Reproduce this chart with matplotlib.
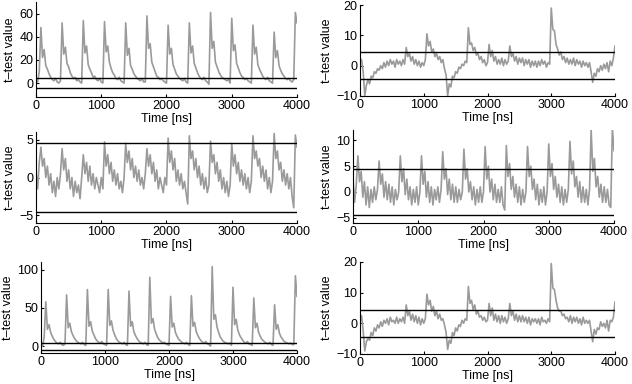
import numpy as np
import matplotlib
matplotlib.use('Agg')
import matplotlib.pyplot as plt

plt.rcParams['font.family'] = ['Liberation Sans', 'DejaVu Sans']
plt.rcParams['font.size'] = 8.5

# time axis: one sample every 25 ns
time_ns = np.arange(0, 4001, 25)
threshold = 4.5

# top left
trace_a = [
    3, 1, 10, 48, 22, 29, 15, 12, 8, 5, 3, 2, 4, 1, 0, 2,
    52, 25, 31, 17, 14, 9, 6, 4, 5, 2, 3, 1, 0,
    54, 26, 32, 16, 12, 9, 5, 6, 3, 2, 4, 1, 0,
    53, 27, 32, 18, 13, 9, 7, 4, 3, 5, 2, 1, 0,
    52, 24, 30, 15, 12, 8, 6, 4, 3, 2, 4, 1, 1,
    58, 30, 34, 18, 14, 10, 6, 5, 3, 4, 2, 1, 0,
    50, 25, 30, 16, 12, 8, 6, 4, 3, 2, 4, 1, 0,
    52, 26, 32, 17, 13, 9, 6, 4, 3, 5, 2, 1, -1,
    61, 30, 36, 18, 14, 10, 7, 5, 4, 3, 2, 3, 0,
    56, 28, 33, 17, 13, 9, 6, 5, 3, 4, 2, 1, 0,
    50, 25, 31, 16, 12, 9, 6, 4, 3, 5, 2, 1, 0,
    44, 22, 28, 15, 11, 8, 6, 4, 3, 4, 2, 1, 3,
    61, 52,
]

# top right
trace_b = [
    1.0, 2.0, -2.0, -10.0, -6.5, -4.5, -6.0, -3.5, -4.0, -2.0, -2.5, -1.0,
    -1.5, 0.0, -1.0, 1.0, -0.5, 1.5, 0.0, 2.0, 0.5, 1.5, -0.5, 2.0,
    0.5, 1.5, 0.0, 2.0, 0.5, 6.0, 3.0, 4.0, 1.5, 3.0, 0.5, 2.0,
    0.0, 1.5, -0.5, 1.0, 0.0, 2.0, 10.5, 6.5, 8.0, 4.5, 5.5, 3.0,
    4.0, 2.0, 3.0, 1.0, 2.0, -1.0, -3.0, -10.0, -6.0, -7.0, -3.5, -4.0,
    -2.0, -2.5, -0.5, -1.0, 0.5, 0.0, 1.5, 1.0, 12.5, 7.0, 7.5, 5.0,
    6.0, 3.5, 4.0, 2.0, 3.0, 1.0, 2.0, 0.0, 1.0, 7.0, 3.0, 5.0,
    1.5, 3.0, 0.5, 2.0, 0.5, 2.5, 0.0, 2.0, 0.5, 1.5, 6.5, 3.0,
    4.0, 1.5, 3.0, 0.5, 2.5, 1.0, 2.5, 0.0, 2.0, 0.5, 2.0, -0.5,
    1.5, 0.0, 1.5, -0.5, 1.5, 0.0, 2.0, 0.5, 1.5, -0.5, 1.0, 0.5,
    19.0, 12.0, 11.5, 7.0, 5.5, 3.5, 4.5, 2.0, 3.0, 1.0, 2.5, 0.5,
    2.0, 0.5, 2.5, 0.0, 2.0, 0.5, 1.5, -0.5, 1.5, 0.0, 1.0, -0.5,
    1.0, -2.0, -5.5, -2.5, -3.5, -1.0, -2.0, 0.0, -1.5, 0.5, -1.0, 1.0,
    -2.0, 1.5, 0.0, 2.5, 6.5,
]

# middle left
trace_c = [
    1.0, -1.5, 2.0, 4.0, 1.5, 2.5, 0.0, 1.5, -1.0, 0.5, -2.0, -0.5, -2.5, 0.0, -1.5, 0.5,
    3.8, 1.0, 2.5, -0.5, 1.0, -1.5, 0.0, -2.5, -0.5, -2.0, -1.0, -2.8, 0.0,
    3.0, 0.5, 2.0, -0.5, 1.5, -1.0, 0.5, -1.5, 0.0, -1.0, -2.0, 0.0, -1.5,
    4.7, 1.5, 3.0, 0.5, 2.0, -0.5, 1.0, -1.0, 0.5, -1.5, -0.5, -2.0, 0.0,
    4.5, 2.0, 3.5, 1.0, 2.5, 0.0, 1.5, -0.5, 1.0, -1.0, 0.0, -1.5, 0.5,
    3.8, 1.5, 3.0, 0.5, 2.0, -0.5, 1.0, -1.5, 0.0, -1.0, -2.0, 0.0, -1.0,
    5.2, 2.0, 3.5, 1.0, 2.5, -0.5, 1.0, -1.0, 0.5, -1.5, -0.5, -2.0, -3.5,
    5.5, 2.5, 3.5, 1.0, 2.5, 0.0, 1.5, -1.0, 0.5, -1.5, 0.0, -2.0, -1.0,
    4.8, 2.0, 3.0, 0.5, 2.0, -0.5, 1.0, -1.5, 0.0, -2.0, -0.5, -2.5, -1.0,
    4.5, 1.5, 3.0, 0.5, 2.0, -0.5, 1.0, -1.0, 0.5, -1.5, 0.0, -2.0, -0.5,
    5.5, 2.5, 3.5, 1.5, 2.5, 0.0, 1.5, -0.5, 1.0, -1.5, 0.0, -2.0, -0.5,
    5.8, 2.5, 3.5, 1.0, 2.0, -0.5, 1.0, -1.0, 0.5, -1.5, 0.0, -2.5, -4.0,
    5.6, 4.0,
]

# middle right
trace_d = [
    2.5, -2.0, 1.5, 7.0, 2.0, 4.0, -1.0, 2.0, -2.5, 1.0, -3.0, 0.5, -2.0, 1.0, -1.5, 0.5,
    6.0, 1.5, 3.5, -1.0, 2.0, -1.5, 1.5, -2.0, 1.0, -2.5, 0.5, -1.5, 0.0,
    7.0, 2.0, 4.5, -0.5, 2.5, -1.5, 1.0, -2.5, 0.5, -2.0, 1.0, -2.5, 0.0,
    7.0, 1.5, 4.0, -1.0, 2.0, -2.0, 1.0, -2.5, 0.5, -1.5, 1.0, -2.0, 0.5,
    7.8, 2.5, 4.5, -0.5, 2.5, -1.5, 1.5, -2.0, 1.0, -2.0, 0.5, -1.5, 0.0,
    8.3, 2.5, 4.5, 0.0, 2.0, -1.5, 1.0, -2.5, 0.5, -2.0, 1.0, -2.0, 0.0,
    8.8, 2.5, 5.0, 0.0, 2.5, -1.5, 1.5, -2.0, 0.5, -2.0, 1.0, -2.5, -3.5,
    9.0, 3.0, 5.5, 0.5, 3.0, -1.0, 1.5, -2.0, 1.0, -2.5, 0.5, -2.0, 0.0,
    8.8, 3.0, 5.0, 0.5, 2.5, -1.5, 1.5, -2.5, 0.5, -2.0, 1.0, -2.5, 0.0,
    9.3, 3.0, 5.5, 0.5, 3.0, -1.0, 1.5, -2.0, 1.0, -2.5, 0.5, -2.0, 0.5,
    9.8, 3.5, 6.0, 1.0, 3.0, -1.0, 2.0, -2.0, 1.0, -2.0, 0.5, -2.5, 0.5,
    12.0, 4.0, 6.5, 1.0, 3.0, -1.0, 1.5, -2.0, 1.0, -2.0, 0.5, -2.5, -3.0,
    12.3, 8.0,
]

# bottom left
trace_e = [
    3, 0, 12, 58, 22, 28, 18, 13, 9, 6, 4, 3, 5, 2, 1, 3,
    67, 24, 30, 19, 14, 10, 7, 5, 4, 3, 5, 2, 1,
    74, 26, 32, 20, 15, 10, 7, 5, 4, 6, 3, 2, 1,
    74, 27, 33, 21, 15, 10, 7, 5, 4, 3, 5, 2, 1,
    72, 26, 32, 19, 14, 10, 7, 5, 4, 3, 5, 2, 1,
    90, 30, 36, 22, 16, 11, 8, 6, 4, 5, 3, 2, 1,
    65, 25, 30, 18, 13, 9, 7, 5, 4, 3, 5, 2, 1,
    66, 26, 31, 19, 14, 10, 7, 5, 4, 6, 3, 2, 0,
    104, 35, 41, 25, 18, 12, 9, 6, 5, 4, 3, 4, 1,
    77, 28, 35, 21, 15, 11, 8, 5, 4, 6, 3, 2, 1,
    63, 24, 30, 18, 13, 9, 7, 5, 4, 3, 5, 2, 1,
    54, 22, 28, 17, 12, 9, 6, 5, 4, 3, 4, 2, 2,
    92, 65,
]

# bottom right
trace_f = [
    0.5, 2.5, -2.5, -9.0, -6.0, -5.0, -5.5, -3.0, -4.0, -1.5, -2.5, -0.5,
    -1.5, 0.5, -1.0, 1.0, 0.0, 1.5, -0.5, 2.0, 0.5, 1.0, 0.0, 2.0,
    0.0, 1.5, 0.5, 2.0, 0.0, 6.0, 2.5, 4.0, 1.0, 3.0, 0.5, 2.5,
    0.0, 2.0, -0.5, 1.5, 0.0, 1.5, 9.5, 6.0, 7.5, 4.0, 5.5, 2.5,
    4.0, 1.5, 3.0, 1.0, 1.5, -0.5, -3.0, -8.5, -5.5, -6.5, -3.0, -4.0,
    -1.5, -2.5, -0.5, -1.0, 1.0, 0.0, 1.5, 1.0, 12.0, 6.5, 7.5, 4.5,
    6.0, 3.0, 4.0, 2.0, 2.5, 1.0, 2.0, 0.5, 1.0, 6.5, 2.5, 5.0,
    1.0, 3.0, 0.5, 2.5, 0.0, 2.5, 0.5, 2.0, 0.0, 1.5, 6.5, 2.5,
    4.0, 1.0, 3.0, 0.5, 2.5, 0.5, 2.5, 0.5, 2.0, 0.0, 2.0, -0.5,
    1.5, 0.5, 1.5, 0.0, 1.5, -0.5, 2.0, 0.5, 1.0, 0.0, 1.5, 0.5,
    19.5, 11.5, 11.0, 7.5, 5.0, 4.0, 4.0, 2.5, 3.0, 1.5, 2.0, 0.5,
    2.5, 0.0, 2.0, 0.5, 2.0, 0.0, 1.5, -0.5, 2.0, 0.0, 1.0, 0.0,
    1.0, -2.5, -6.0, -2.0, -3.5, -1.5, -2.0, 0.5, -1.0, 0.0, -1.5, 1.0,
    -2.5, 1.0, 0.5, 2.0, 7.0,
]

# (trace, ylim, yticks, axes box in pixels: x0, y0, x1, y1)
panels = [
    (trace_a, (-12, 70), [0, 20, 40, 60], (36, 2, 297, 97)),
    (trace_b, (-10, 20), [-10, 0, 10, 20], (360, 5, 615, 96)),
    (trace_c, (-6, 6), [-5, 0, 5], (36, 132, 297, 223)),
    (trace_d, (-6, 12), [-5, 0, 5, 10], (353, 130, 614, 223)),
    (trace_e, (-9, 110), [0, 50, 100], (41, 262, 297, 353)),
    (trace_f, (-10, 20), [-10, 0, 10, 20], (360, 262, 615, 354)),
]

W, H = 632, 384
fig = plt.figure(figsize=(W / 100, H / 100), dpi=100)

for trace, ylim, yticks, (x0, y0, x1, y1) in panels:
    ax = fig.add_axes([x0 / W, 1 - y1 / H, (x1 - x0) / W, (y1 - y0) / H])
    ax.plot(time_ns, trace, color='#9a9a9a', lw=1.2)
    ax.axhline(threshold, color='k', lw=1.0)
    ax.axhline(-threshold, color='k', lw=1.0)
    ax.set_xlim(0, 4000)
    ax.set_ylim(*ylim)
    ax.set_xticks([0, 1000, 2000, 3000, 4000])
    ax.set_yticks(yticks)
    ax.spines['top'].set_visible(False)
    ax.spines['right'].set_visible(False)
    for s in ('left', 'bottom'):
        ax.spines[s].set_linewidth(0.8)
    ax.tick_params(direction='in', length=2, width=0.8, pad=2, labelsize=9)
    ax.set_xlabel('Time [ns]', labelpad=1, fontsize=9)
    ax.set_ylabel('t\u2013test value', labelpad=2, fontsize=9)

fig.savefig('out.png', dpi=100)
